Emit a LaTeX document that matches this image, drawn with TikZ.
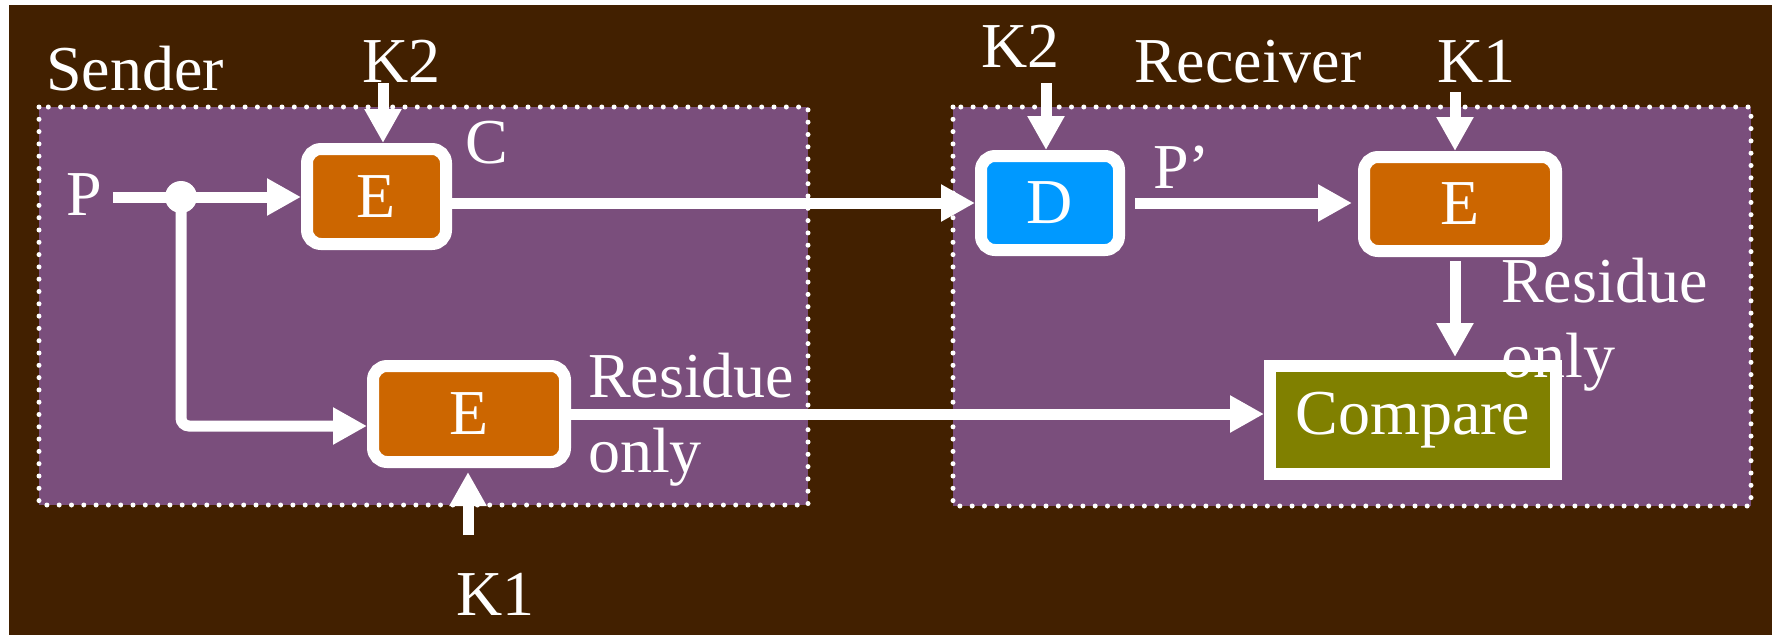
\documentclass[tikz,border=0pt]{standalone}
\usepackage{fontspec}
\setmainfont{Liberation Serif}
\usetikzlibrary{arrows.meta,calc}
\definecolor{bgbrown}{HTML}{422000}
\definecolor{panel}{HTML}{7A4E7C}
\definecolor{eorange}{HTML}{CC6600}
\definecolor{dblue}{HTML}{0099FF}
\definecolor{olivebox}{HTML}{808000}
\begin{document}
\begin{tikzpicture}[x=1pt,y=-1pt,
  lbl/.style={text=white,font=\fontsize{64}{75}\selectfont,inner sep=0pt},
  blk/.style={draw=white,line width=12pt,rounded corners=14pt,inner sep=0pt,text=white,font=\fontsize{64}{75}\selectfont},
  panelbox/.style={fill=panel,draw=white,line width=5pt,line cap=round,dash pattern=on 0pt off 12.3pt},
  arr/.style={draw=white,line width=11pt,-{Triangle[length=34pt,width=35pt]}},
  ln/.style={draw=white,line width=11pt}]
\useasboundingbox (0,0) rectangle (1772,635);
\fill[white] (0,0) rectangle (1772,635);
\fill[bgbrown] (9,5) rectangle (1772,635);
% panels
\draw[panelbox] (39,107) rectangle (808,505);
\draw[panelbox] (953,107) rectangle (1751,506);
% blocks
\node[blk,fill=eorange,minimum width=139pt,minimum height=95pt] (E1) at (376.5,196.5) {E};
\node[blk,fill=eorange,minimum width=192pt,minimum height=96pt] (E2) at (469,414) {E};
\node[blk,fill=dblue,minimum width=138pt,minimum height=94pt] (D) at (1050,203) {D};
\node[blk,fill=eorange,minimum width=192pt,minimum height=94pt] (E3) at (1460,204) {E};
\node[blk,fill=olivebox,rounded corners=0pt,minimum width=286pt,minimum height=108pt] (Cmp) at (1413,420) {Compare};
% labels
\node[lbl,anchor=base west] (snd) at (46,90) {Sender};
\node[lbl,anchor=base west] (k2s) at (362,82) {K2};
\node[lbl,anchor=base west] (C) at (465,163) {C};
\node[lbl,anchor=base west] (P) at (66,215) {P};
\node[lbl,anchor=base west] (res1a) at (588,397) {Residue};
\node[lbl,anchor=base west] (res1b) at (588,472) {only};
\node[lbl,anchor=base west] (k1s) at (456,615) {K1};
\node[lbl,anchor=base west] (k2r) at (981,67) {K2};
\node[lbl,anchor=base west] (rcv) at (1134,82) {Receiver};
\node[lbl,anchor=base west] (k1r) at (1437,82) {K1};
\node[lbl,anchor=base west] (Pp) at (1153,188) {P’};
\node[lbl,anchor=base west] (res2a) at (1501,302) {Residue};
\node[lbl,anchor=base west] (res2b) at (1501,377) {only};
% junction
\node[circle,fill=white,inner sep=0pt,minimum size=32pt] (J) at (181,197) {};
% connectors
\draw[arr,shorten <=11pt] (P.east |- J) -- (J -| E1.west);
\draw[arr,rounded corners=8pt] (J.center) |- ($(E2.west)+(0,12)$);
\coordinate (a1) at (383,83);
\draw[arr] (a1) -- (a1 |- E1.north);
\draw[arr] (E1.east |- D.west) -- (D.west);
\coordinate (a2) at (1046,83);
\draw[arr] (a2) -- (a2 |- D.north);
\draw[arr,shorten <=10pt,shorten >=6pt] (D.east) -- (D.east -| E3.west);
\coordinate (a3) at (1455,92);
\draw[arr] (a3) -- (a3 |- E3.north);
\draw[arr,shorten <=4pt,shorten >=3pt] (a3 |- E3.south) -- (a3 |- Cmp.north);
\draw[arr] (E2.east) -- (E2.east -| Cmp.west);
\coordinate (a4) at (468,535);
\draw[arr,shorten >=4pt] (a4) -- (a4 |- E2.south);
\end{tikzpicture}
\end{document}
